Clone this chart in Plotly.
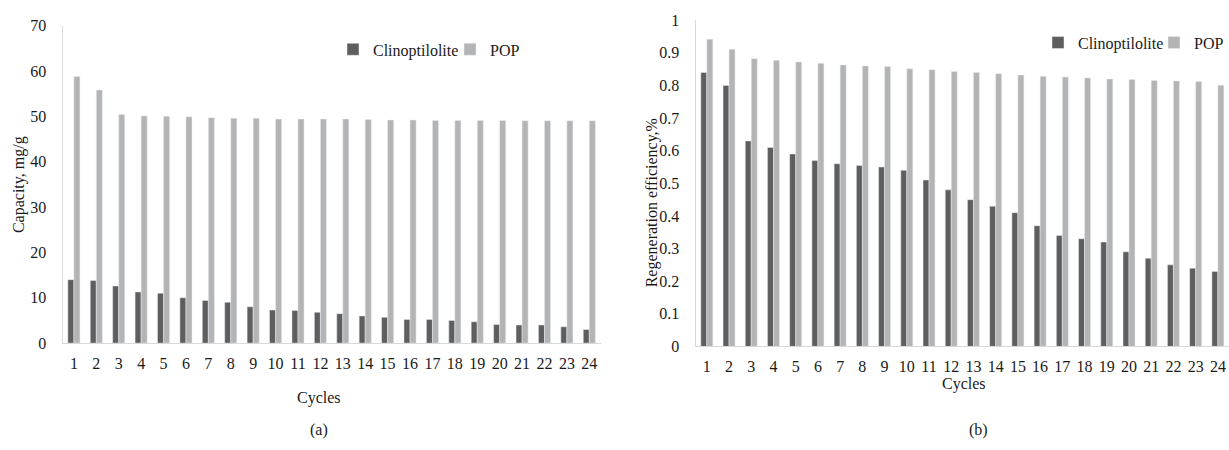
import plotly.graph_objects as go

cycles = [str(i) for i in range(1, 25)]

cap_clino = [14.0, 13.8, 12.6, 11.3, 11.0, 10.0, 9.4, 9.0, 8.0, 7.3, 7.2, 6.8,
             6.5, 6.0, 5.7, 5.2, 5.2, 5.0, 4.7, 4.1, 4.0, 4.0, 3.6, 3.0]
cap_pop = [58.8, 55.8, 50.4, 50.1, 50.0, 49.9, 49.7, 49.6, 49.6, 49.4, 49.4, 49.4,
           49.4, 49.3, 49.2, 49.2, 49.1, 49.1, 49.1, 49.1, 49.0, 49.0, 49.0, 49.0]

reg_clino = [0.84, 0.80, 0.63, 0.61, 0.59, 0.57, 0.56, 0.555, 0.55, 0.54, 0.51, 0.48,
             0.45, 0.43, 0.41, 0.37, 0.34, 0.33, 0.32, 0.29, 0.27, 0.25, 0.24, 0.23]
reg_pop = [0.942, 0.911, 0.882, 0.877, 0.872, 0.868, 0.863, 0.860, 0.858, 0.851, 0.848, 0.843,
           0.840, 0.836, 0.832, 0.828, 0.826, 0.823, 0.820, 0.818, 0.815, 0.814, 0.812, 0.801]

DARK = "#5e5e5e"
LIGHT = "#b4b4b4"
AXIS = "#d9d9d9"
TXT = "#1a1a1a"
FONT = "Liberation Serif"

W, H = 1229, 450

fig = go.Figure()
fig.add_trace(go.Bar(x=cycles, y=cap_clino, name="Clinoptilolite", marker_color=DARK,
                     xaxis="x", yaxis="y", legend="legend"))
fig.add_trace(go.Bar(x=cycles, y=cap_pop, name="POP", marker_color=LIGHT,
                     xaxis="x", yaxis="y", legend="legend2"))
fig.add_trace(go.Bar(x=cycles, y=reg_clino, name="Clinoptilolite", marker_color=DARK,
                     xaxis="x2", yaxis="y2", legend="legend3"))
fig.add_trace(go.Bar(x=cycles, y=reg_pop, name="POP", marker_color=LIGHT,
                     xaxis="x2", yaxis="y2", legend="legend4"))

def px_x(v):
    return v / W

def px_y(v):
    return (H - v) / H

axis_common = dict(showline=True, linecolor=AXIS, linewidth=1.3, showgrid=False,
                   zeroline=False, ticks="", tickfont=dict(family=FONT, size=16, color=TXT))

legend_common = dict(orientation="h", yanchor="middle",
                     bgcolor="rgba(0,0,0,0)", borderwidth=0,
                     font=dict(family=FONT, size=16, color=TXT),
                     itemwidth=30, tracegroupgap=0)

fig.update_layout(
    width=W, height=H,
    margin=dict(l=0, r=0, t=0, b=0),
    paper_bgcolor="white", plot_bgcolor="white",
    barmode="group", bargap=0.46, bargroupgap=0,
    font=dict(family=FONT, color=TXT),
    xaxis=dict(domain=[px_x(62.7), px_x(600.5)], anchor="y", type="category",
               ticklabelstandoff=6, **axis_common),
    yaxis=dict(domain=[px_y(348.3), px_y(18.3)], anchor="x", range=[0, 70], dtick=10,
               ticklabelstandoff=12, **axis_common),
    xaxis2=dict(domain=[px_x(695.7), 1.0], anchor="y2", type="category",
                ticklabelstandoff=5, **axis_common),
    yaxis2=dict(domain=[px_y(351.7), px_y(12.7)], anchor="x2", range=[0, 1], dtick=0.1,
                ticklabelstandoff=12, **axis_common),
    legend=dict(x=px_x(333), y=px_y(43), xanchor="left", **legend_common),
    legend2=dict(x=px_x(450), y=px_y(43), xanchor="left", **legend_common),
    legend3=dict(x=px_x(1038), y=px_y(36), xanchor="left", **legend_common),
    legend4=dict(x=1.0, y=px_y(36), xanchor="right", **legend_common),
    showlegend=True,
)

ann_font = dict(family=FONT, size=16, color=TXT)
annotations = [
    dict(text="Capacity, mg/g", x=px_x(19), y=px_y(184), textangle=-90),
    dict(text="Cycles", x=px_x(319), y=px_y(405)),
    dict(text="Regeneration efficiency,%", x=px_x(652), y=px_y(203), textangle=-90),
    dict(text="Cycles", x=px_x(964), y=px_y(391)),
]
for a in annotations:
    fig.add_annotation(xref="paper", yref="paper", showarrow=False, xanchor="center",
                       yanchor="middle", font=ann_font, **a)

# panel captions sit on the bottom edge of the page
for txt, xpos in [("(a)", 319), ("(b)", 978)]:
    fig.add_annotation(text=txt, xref="paper", yref="paper", x=px_x(xpos), y=0,
                       showarrow=False, xanchor="center", yanchor="bottom", font=ann_font)

# remove the default 8px page margin so the 1229x450 figure fills the window exactly
fig.write_html("out.html",
               config={"displayModeBar": False},
               post_script="document.body.style.margin='0';document.body.style.overflow='hidden';")
